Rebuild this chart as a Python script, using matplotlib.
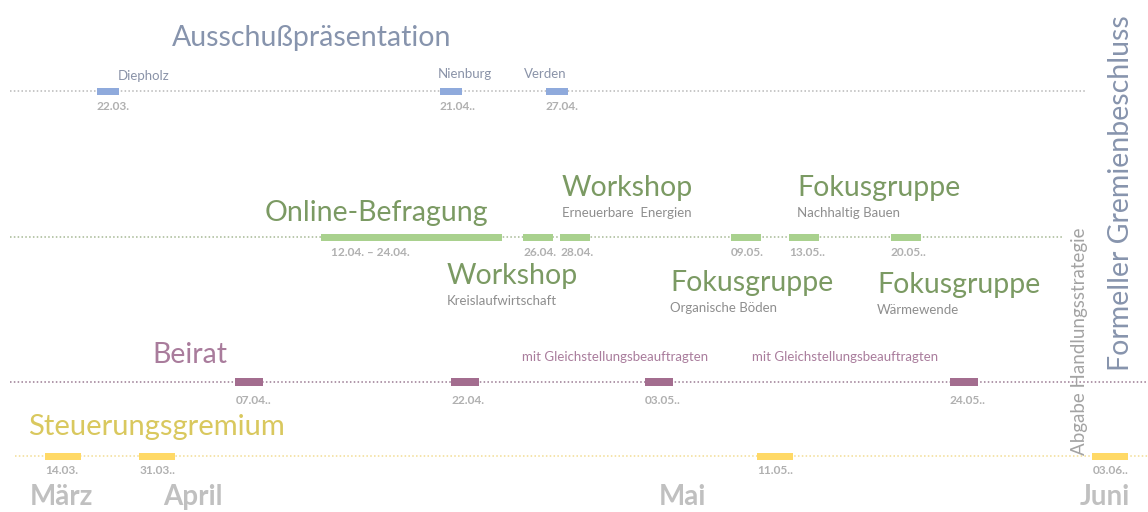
import numpy as np
import matplotlib
matplotlib.use('Agg')
import matplotlib.pyplot as plt
import matplotlib.dates as mdates
from matplotlib import transforms

plt.rcParams['font.family'] = ['Lato', 'DejaVu Sans']

# Data

aus_places = ['Diepholz', 'Nienburg', 'Verden']
aus_dates = ['2021-03-22', '2021-04-21', '2021-04-27']
aus_labels = ['22.03.', '21.04..', '27.04.']

online_span = ['2021-04-12', '2021-04-24']
online_label = '12.04. \u2013 24.04.'

green_dates = ['2021-04-26', '2021-04-28', '2021-05-09', '2021-05-13', '2021-05-20']
green_labels = ['26.04.', '28.04.', '09.05.', '13.05..', '20.05..']
green_titles = ['Workshop', 'Workshop', 'Fokusgruppe', 'Fokusgruppe', 'Fokusgruppe']
green_topics = ['Kreislaufwirtschaft', 'Erneuerbare  Energien', 'Organische Böden',
                'Nachhaltig Bauen', 'Wärmewende']

beirat_dates = ['2021-04-07', '2021-04-22', '2021-05-03', '2021-05-24']
beirat_labels = ['07.04..', '22.04.', '03.05..', '24.05..']
beirat_note = 'mit Gleichstellungsbeauftragten'

steuer_dates = ['2021-03-14', '2021-03-31', '2021-05-11', '2021-06-03']
steuer_labels = ['14.03.', '31.03..', '11.05..', '03.06..']

months = ['März', 'April', 'Mai', 'Juni']
month_dates = ['2021-03-08', '2021-04-01', '2021-05-03', '2021-06-01']

milestones = ['Abgabe Handlungsstrategie', 'Formeller Gremienbeschluss']

# Layout

W, H = 1148, 512
ROW = {'aus': 91, 'green': 237, 'beirat': 382, 'steuer': 456}

C_BLUE, C_BLUE_T = '#8faadc', '#8794ad'
C_GREEN, C_GREEN_T = '#a9d18e', '#7b9a63'
C_PURP, C_PURP_T = '#a36d8f', '#a97c9c'
C_YELL, C_YELL_T = '#ffd966', '#d9c85e'
C_DATE = '#b0b0b0'
C_SUB = '#8e8e8e'


def dn(s):
    return mdates.date2num(np.datetime64(s))


# slide-like time axis: March is squeezed, late April wider
anchor_d = np.array([dn('2021-02-01'), dn('2021-03-01'), dn('2021-04-01'), dn('2021-04-22'),
                     dn('2021-05-01'), dn('2021-06-01'), dn('2021-07-01')])
anchor_p = np.array([-164., -9., 163., 465., 630., 1080., 1535.])


def fwd(x):
    return np.interp(x, anchor_d, anchor_p)


def inv(p):
    return np.interp(p, anchor_p, anchor_d)


fig = plt.figure(figsize=(W / 100, H / 100), dpi=100)
ax = fig.add_axes([0, 0, 1, 1])
ax.set_xscale('function', functions=(fwd, inv))
ax.set_xlim(inv(0), inv(W))
ax.set_ylim(H, 0)
ax.axis('off')

blend = transforms.blended_transform_factory(ax.transAxes, ax.transData)


def txt(x, y, s, **kw):
    kw.setdefault('ha', 'left')
    kw.setdefault('va', 'center')
    ax.text(x / W, y, s, transform=blend, **kw)


def events(dates, y, color, w_px, h_px):
    r = h_px / w_px
    box = np.array([(-1, -r), (1, -r), (1, r), (-1, r), (-1, -r)])
    x = [dn(d) for d in dates]
    ax.plot(x, [y] * len(x), ls='none', marker=box, ms=w_px * 0.72, mew=0,
            color=color, zorder=3)


def date_labels(dates, labels, y, w_px, dy=16):
    for d, s in zip(dates, labels):
        ax.annotate(s, (dn(d), y), xytext=(-w_px * 0.36, -dy * 0.72),
                    textcoords='offset points', ha='left', va='center',
                    fontsize=8.6, fontweight='bold', color=C_DATE)


def dotted(y, x0, x1, color):
    ax.axhline(y, x0 / W, x1 / W, ls=(0, (1, 1.5)), lw=1.1, color=color, zorder=1)


# Ausschußpräsentation
dotted(ROW['aus'], 10, 1086, '#b8b8b8')
events(aus_dates, ROW['aus'], C_BLUE, 22, 7)
date_labels(aus_dates, aus_labels, ROW['aus'], 22)
txt(172, 38, 'Ausschußpräsentation', fontsize=20.5, color=C_BLUE_T)
for (x, y), s in zip([(118, 76), (438, 74), (524, 74)], aus_places):
    txt(x, y, s, fontsize=9.5, color='#8a93a8')

# Beteiligung
dotted(ROW['green'], 10, 1063, '#a6b894')
ax.barh(ROW['green'], dn(online_span[1]) - dn(online_span[0]), left=dn(online_span[0]),
        height=7, color=C_GREEN, zorder=3)
ax.annotate(online_label, (dn(online_span[0]), ROW['green']), xytext=(7, -11.5),
            textcoords='offset points', ha='left', va='center', fontsize=8.6,
            fontweight='bold', color=C_DATE)
txt(265, 213, 'Online-Befragung', fontsize=20.5, color=C_GREEN_T)
events(green_dates, ROW['green'], C_GREEN, 30, 7)
date_labels(green_dates, green_labels, ROW['green'], 30)
title_pos = [(447, 276), (562, 188), (670, 283), (797, 188), (877, 285)]
for (x, y), t, s in zip(title_pos, green_titles, green_topics):
    txt(x, y, t, fontsize=20.5, color=C_GREEN_T)
    txt(x, y + 25, s, fontsize=9.5, color=C_SUB)

# Beirat
dotted(ROW['beirat'], 10, W, '#9a7a92')
events(beirat_dates, ROW['beirat'], C_PURP, 28, 8)
date_labels(beirat_dates, beirat_labels, ROW['beirat'], 28, dy=18)
txt(152, 355, 'Beirat', fontsize=20.5, color=C_PURP_T)
txt(522, 357, beirat_note, fontsize=9.5, color=C_PURP_T)
txt(752, 357, beirat_note, fontsize=9.5, color=C_PURP_T)

# Steuerungsgremium
dotted(ROW['steuer'], 15, W, '#f2dd94')
events(steuer_dates, ROW['steuer'], C_YELL, 36, 7)
date_labels(steuer_dates, steuer_labels, ROW['steuer'], 36, dy=15)
txt(28, 427, 'Steuerungsgremium', fontsize=21, color=C_YELL_T)

# Monate
for m, d in zip(months, month_dates):
    ax.text(dn(d), 497, m, ha='left', va='center', fontsize=20,
            fontweight='bold', color='#c0c0c0')

# Meilensteine
txt(1080, 341, milestones[0], fontsize=13.5, color='#a3a3a3', rotation=90, ha='center')
txt(1121, 193, milestones[1], fontsize=20.5, color=C_BLUE_T, rotation=90, ha='center')

fig.savefig('out.png', dpi=100, facecolor='white')
